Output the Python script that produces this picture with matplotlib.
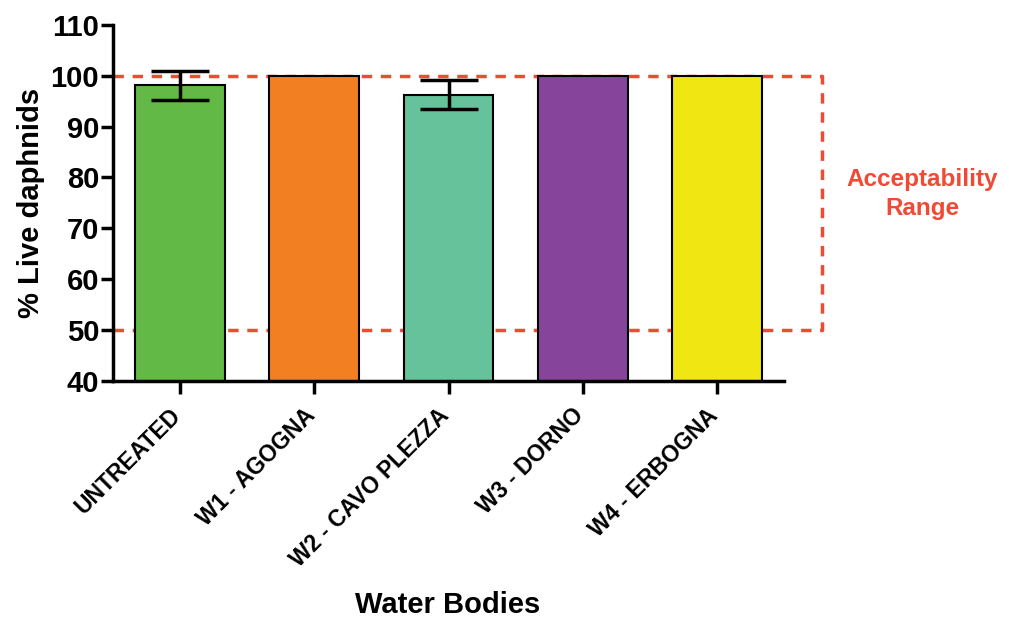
import matplotlib.pyplot as plt
from matplotlib.transforms import ScaledTranslation

plt.rcParams['font.family'] = ['Liberation Sans', 'DejaVu Sans']
plt.rcParams['font.weight'] = 'bold'

categories = ['UNTREATED', 'W1 - AGOGNA', 'W2 - CAVO PLEZZA', 'W3 - DORNO', 'W4 - ERBOGNA']
live_pct = [98.1, 100, 96.3, 100, 100]
live_err = [2.9, 0, 2.9, 0, 0]
bar_colors = ['#62b946', '#f28022', '#66c29a', '#86459a', '#f0e612']
range_low, range_high = 50, 100

fig = plt.figure(figsize=(10.09, 6.22), dpi=100)
ax = fig.add_axes([0.112, 0.3875, 0.665, 0.5725])

x = range(len(categories))
ax.bar(x, live_pct, width=0.67, color=bar_colors, edgecolor='black', linewidth=1.5, zorder=2)
for i in x:
    if live_err[i] > 0:
        ax.errorbar(i, live_pct[i], yerr=live_err[i], fmt='none', ecolor='black',
                    elinewidth=2.5, capsize=21, capthick=2.5, zorder=3)

# acceptability range box
red = '#f04a35'
xr = 4.78
ax.plot([-0.5, xr, xr, -0.5], [range_high, range_high, range_low, range_low],
        color=red, lw=2.5, ls=(0, (3, 2.5)), clip_on=False, zorder=1)
ax.text(5.53, 76.7, 'Acceptability\nRange', color=red, fontsize=17.5, fontweight='bold',
        ha='center', va='center', linespacing=1.35)

ax.set_xlim(-0.5, 4.5)
ax.set_ylim(40, 110)
ax.set_yticks(range(40, 111, 10))
ax.set_xticks(list(x))
ax.set_xticklabels([])
# rotated category labels, placed by hand so their ends sit under the ticks
lab_tr = ax.get_xaxis_transform() + ScaledTranslation(-0.11, -0.23, fig.dpi_scale_trans)
for i, name in zip(x, categories):
    ax.text(i, 0, name, transform=lab_tr, rotation=45, rotation_mode='anchor',
            ha='right', va='top', fontsize=16.5, fontweight='bold')
ax.tick_params(axis='y', labelsize=21, width=2.5, length=9, pad=1)
ax.tick_params(axis='x', width=2.5, length=9)
for s in ['top', 'right']:
    ax.spines[s].set_visible(False)
for s in ['left', 'bottom']:
    ax.spines[s].set_linewidth(2.5)

ax.set_ylabel('% Live daphnids', fontsize=21, fontweight='bold', labelpad=4)
fig.text(448 / 1009, 1 - 605 / 622, 'Water Bodies', fontsize=21, fontweight='bold',
         ha='center', va='center')

fig.savefig('out.png', dpi=100)
